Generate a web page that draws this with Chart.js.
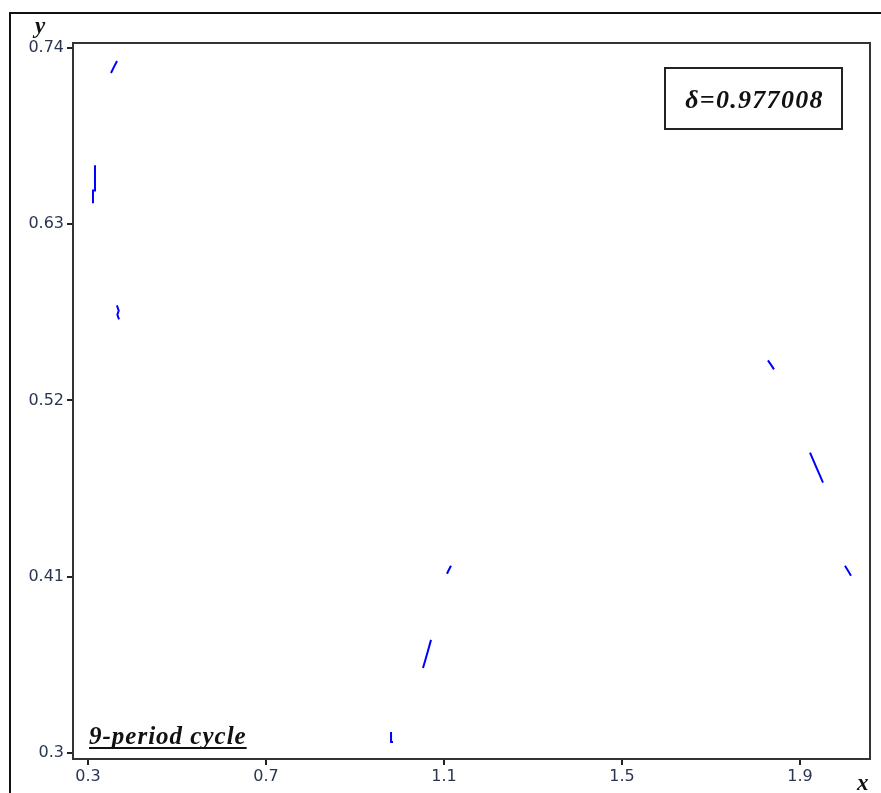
<!DOCTYPE html>
<html>
<head>
<meta charset="utf-8">
<script src="https://cdn.jsdelivr.net/npm/chart.js@4.4.1/dist/chart.umd.min.js"></script>
<style>
  html, body { margin: 0; padding: 0; background: #fff; }
  #wrap { width: 881px; height: 793px; position: relative; }
</style>
</head>
<body>
<div id="wrap"><canvas id="c" width="881" height="793"></canvas></div>
<script>
// Tick labels
const xTicks = [0.3, 0.7, 1.1, 1.5, 1.9];
const yTicks = [0.3, 0.41, 0.52, 0.63, 0.74];

// 9-period cycle: short attractor segments (null separates segments)
const cycleX = [
  0.3517, 0.3584, 0.3652, null,
  0.3157, 0.3157, 0.3112, 0.3112, null,
  0.3650, 0.3690, 0.3660, 0.3697, null,
  1.8280, 1.8350, 1.8416, null,
  1.9225, 1.9370, 1.9517, null,
  2.0010, 2.0080, 2.0146, null,
  1.1157, 1.1110, 1.1067, null,
  1.0708, 1.0620, 1.0528, null,
  0.9810, 0.9810, 0.9854
];
const cycleY = [
  0.7244, 0.7282, 0.7319, null,
  0.6669, 0.6510, 0.6510, 0.6431, null,
  0.5794, 0.5760, 0.5735, 0.5706, null,
  0.5450, 0.5422, 0.5394, null,
  0.4875, 0.4781, 0.4688, null,
  0.4169, 0.4138, 0.4106, null,
  0.4169, 0.4144, 0.4119, null,
  0.3706, 0.3618, 0.3531, null,
  0.3131, 0.3069, 0.3069
];

const deltaText = 'δ=0.977008';
const cycleText = '9-period cycle';

const points = cycleX.map((x, i) => ({ x: x === null ? null : x, y: cycleY[i] }));

const tickFont = { family: 'DejaVu Sans', size: 16 };
const tickColor = '#2b3552';

const framePlugin = {
  id: 'frame',
  beforeDraw(chart) {
    const ctx = chart.ctx;
    ctx.save();
    ctx.fillStyle = '#fff';
    ctx.fillRect(0, 0, chart.width, chart.height);
    ctx.strokeStyle = '#111';
    ctx.lineWidth = 2;
    ctx.strokeRect(10, 13, 900, 900);
    ctx.restore();
  },
  afterDraw(chart) {
    const ctx = chart.ctx;
    const a = chart.chartArea;
    ctx.save();
    ctx.strokeStyle = '#333';
    ctx.lineWidth = 2;
    ctx.strokeRect(a.left, a.top, a.right - a.left, a.bottom - a.top);

    // axis labels
    ctx.fillStyle = '#111';
    ctx.font = 'italic bold 23px "Liberation Serif"';
    ctx.textAlign = 'left';
    ctx.textBaseline = 'alphabetic';
    ctx.fillText('y', 35, 33);
    ctx.fillText('x', 857, 790);

    // delta box
    ctx.lineWidth = 2;
    ctx.strokeStyle = '#222';
    ctx.strokeRect(665, 68, 177, 61);
    ctx.font = 'italic bold 26px "Liberation Serif"';
    ctx.letterSpacing = '1.3px';
    ctx.textAlign = 'center';
    ctx.fillText(deltaText, 754.5, 108);

    // cycle label with underline
    ctx.font = 'italic bold 25px "Liberation Serif"';
    ctx.letterSpacing = '1px';
    ctx.textAlign = 'left';
    ctx.fillText(cycleText, 89, 744);
    const w = ctx.measureText(cycleText).width;
    ctx.fillRect(89, 747, w, 2);
    ctx.letterSpacing = '0px';
    ctx.restore();
  }
};

new Chart(document.getElementById('c'), {
  type: 'scatter',
  data: {
    datasets: [{
      data: points,
      showLine: true,
      spanGaps: false,
      borderColor: '#0000ff',
      borderWidth: 2,
      pointRadius: 0,
      pointHoverRadius: 0,
      fill: false
    }]
  },
  options: {
    responsive: false,
    animation: false,
    devicePixelRatio: 1,
    layout: { padding: { top: 43, right: 11, left: 0, bottom: 0 } },
    plugins: { legend: { display: false }, tooltip: { enabled: false } },
    scales: {
      x: {
        type: 'linear',
        min: 0.3 - 15 / 445,
        max: 0.3 + 782 / 445,
        afterBuildTicks(s) { s.ticks = xTicks.map(v => ({ value: v })); },
        afterFit(s) { s.height = 34; },
        ticks: {
          font: tickFont, color: tickColor, padding: 2,
          callback: v => String(v)
        },
        grid: { display: true, drawOnChartArea: false, drawTicks: true, tickLength: 6, color: '#222', lineWidth: 2 },
        border: { display: true, color: '#333', width: 2 }
      },
      y: {
        type: 'linear',
        min: 0.3 - 6 / 1600,
        max: 0.74 + 5 / 1600,
        afterBuildTicks(s) { s.ticks = yTicks.map(v => ({ value: v })); },
        afterFit(s) { s.width = 73; },
        ticks: {
          font: tickFont, color: tickColor, padding: 3,
          callback: v => String(v)
        },
        grid: { display: true, drawOnChartArea: false, drawTicks: true, tickLength: 6, color: '#222', lineWidth: 2 },
        border: { display: true, color: '#333', width: 2 }
      }
    }
  },
  plugins: [framePlugin]
});
</script>
</body>
</html>
